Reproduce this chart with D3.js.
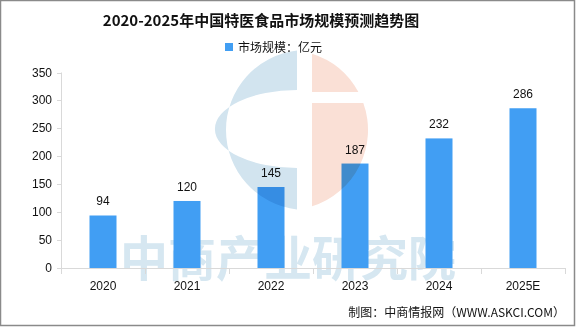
<!DOCTYPE html>
<html><head><meta charset="utf-8">
<script src="https://cdn.jsdelivr.net/npm/d3@7"></script>
<style>html,body{margin:0;padding:0;background:#fff;}svg{display:block;}</style>
</head><body>
<svg id="c" width="576" height="327"></svg>
<script>
const categories = ["2020","2021","2022","2023","2024","2025E"];
const values = [94,120,145,187,232,286];
const yTicks = [0,50,100,150,200,250,300,350];
const titleText = "2020-2025年中国特医食品市场规模预测趋势图";
const legendText = "市场规模：亿元";
const sourceText = "制图：中商情报网（WWW.ASKCI.COM）";
const watermarkText = "中商产业研究院";

const svg = d3.select("#c");
const W = 576, H = 327;
const m = {left:61, right:11, top:72.5, bottom:59};
const x = d3.scaleBand().domain(categories).range([m.left, W - m.right]).paddingInner(0).paddingOuter(0);
const y = d3.scaleLinear().domain([0,350]).range([H - m.bottom, m.top]);
const sans = "'Liberation Sans', Arial, sans-serif";
const cjk = "'Noto Sans CJK SC', 'Noto Sans', sans-serif";

svg.append("rect").attr("x",0).attr("y",0).attr("width",W).attr("height",H).attr("fill","#fff");

// watermark text (behind bars)
svg.append("text").attr("x",288).attr("y",276).attr("text-anchor","middle")
  .attr("font-family",cjk).attr("font-weight","bold").attr("font-size",48).attr("fill","#d6e7f1")
  .text(watermarkText);

// bars
const bw = 27;
svg.append("g").selectAll("rect").data(values).join("rect")
  .attr("x",(d,i)=>x(categories[i]) + x.bandwidth()/2 - bw/2)
  .attr("y",d=>y(d)).attr("width",bw).attr("height",d=>y(0)-y(d))
  .attr("fill","#419ef3");

// value labels
svg.append("g").selectAll("text").data(values).join("text")
  .attr("x",(d,i)=>x(categories[i]) + x.bandwidth()/2)
  .attr("y",d=>y(d)-10)
  .attr("text-anchor","middle").attr("font-family",sans).attr("font-size",12).attr("fill","#111")
  .text(d=>d);

// watermark logo (over bars, blended)
const wm = svg.append("g").style("mix-blend-mode","multiply");
const cx = 288, cy = 130, r = 80;
const blueC = "#d2e4ef", peachC = "#fae0d6";
wm.append("path").attr("fill",blueC).attr("d",
  `M ${cx+9} ${cy - Math.sqrt(r*r-81)} A ${r} ${r} 0 0 0 ${cx+9} ${cy + Math.sqrt(r*r-81)} L ${cx+9} ${cy+38}` +
  ` A 80 38 0 0 1 ${cx+9} ${cy-40} Z`);
const py1 = 92, py2 = 103;
function xAt(yy){return cx + Math.sqrt(Math.max(0, r*r - (yy-cy)*(yy-cy)));}
wm.append("path").attr("fill",peachC).attr("d",
  `M ${cx+24} ${cy - Math.sqrt(r*r-576)} A ${r} ${r} 0 0 1 ${xAt(py1)} ${py1} L ${cx+24} ${py1} Z`);
wm.append("path").attr("fill",peachC).attr("d",
  `M ${cx+24} ${py2} L ${xAt(py2)} ${py2} A ${r} ${r} 0 0 1 ${cx+24} ${cy + Math.sqrt(r*r-576)} Z`);

// y axis
const axisC = "#d9d9d9";
const ya = svg.append("g");
ya.append("line").attr("x1",m.left+0.5).attr("x2",m.left+0.5).attr("y1",y(350)).attr("y2",y(0)).attr("stroke",axisC);
ya.selectAll("line.t").data(yTicks).join("line").attr("class","t")
  .attr("x1",m.left-4).attr("x2",m.left).attr("y1",d=>Math.round(y(d))+0.5).attr("y2",d=>Math.round(y(d))+0.5).attr("stroke",axisC);
ya.selectAll("text").data(yTicks).join("text")
  .attr("x",m.left-9).attr("y",d=>y(d)+4).attr("text-anchor","end")
  .attr("font-family",sans).attr("font-size",12).attr("fill","#111").text(d=>d);

// x axis
const xa = svg.append("g");
xa.append("line").attr("x1",m.left).attr("x2",W-m.right).attr("y1",Math.round(y(0))+0.5).attr("y2",Math.round(y(0))+0.5).attr("stroke",axisC);
const bounds = categories.map(c=>x(c)).concat([x(categories[categories.length-1])+x.bandwidth()]);
xa.selectAll("line.t").data(bounds).join("line").attr("class","t")
  .attr("x1",d=>Math.round(d)+0.5).attr("x2",d=>Math.round(d)+0.5)
  .attr("y1",y(0)).attr("y2",y(0)+6).attr("stroke",axisC);
xa.selectAll("text").data(categories).join("text")
  .attr("x",d=>x(d)+x.bandwidth()/2).attr("y",y(0)+22).attr("text-anchor","middle")
  .attr("font-family",sans).attr("font-size",12).attr("fill","#111").text(d=>d);

// title
svg.append("text").attr("x",261).attr("y",26).attr("text-anchor","middle")
  .attr("font-family",cjk).attr("font-weight","bold").attr("font-size",15).attr("fill","#111").text(titleText);

// legend
svg.append("rect").attr("x",225).attr("y",43).attr("width",8).attr("height",8).attr("fill","#419ef3");
svg.append("text").attr("x",238).attr("y",52).attr("font-family",cjk).attr("font-size",12).attr("fill","#111").text(legendText);

// source
svg.append("text").attr("x",565).attr("y",317).attr("text-anchor","end")
  .attr("font-family",cjk).attr("font-size",12).attr("fill","#111").text(sourceText);

// frame
svg.append("rect").attr("x",0.5).attr("y",0.5).attr("width",W-2).attr("height",H-2)
  .attr("fill","none").attr("stroke","#8a8a8a").attr("stroke-width",1.5);
</script>
</body></html>
